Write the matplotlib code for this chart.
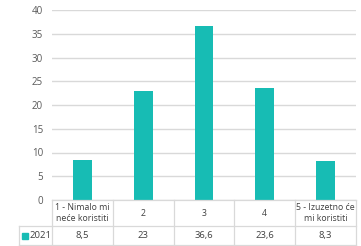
import matplotlib.pyplot as plt
from matplotlib.patches import Rectangle
from matplotlib.lines import Line2D

categories = ["1 - Nimalo mi\nneće koristiti", "2", "3", "4", "5 - Izuzetno će\nmi koristiti"]
values = [8.5, 23, 36.6, 23.6, 8.3]
value_labels = ["8,5", "23", "36,6", "23,6", "8,3"]
series_name = "2021"
yticks = [0, 5, 10, 15, 20, 25, 30, 35, 40]

teal = "#17bcb4"
grid = "#d9d9d9"
txt = "#595959"

W, H = 361, 246
fig = plt.figure(figsize=(W / 100, H / 100), dpi=100)
plt.rcParams['font.family'] = ['Open Sans', 'DejaVu Sans']

def fx(px):
    return px / W

def fy(py):
    return 1 - py / H

ax = fig.add_axes([fx(52), fy(200), fx(356) - fx(52), fy(10) - fy(200)])
x = range(len(values))
ax.bar(x, values, width=0.31, color=teal, zorder=3)
ax.set_xlim(-0.5, len(values) - 0.5)
ax.set_ylim(0, 40)
ax.set_yticks(yticks)
ax.set_yticklabels([str(t) for t in yticks], fontsize=7, color=txt)
ax.yaxis.grid(True, color=grid, linewidth=1, zorder=0)
ax.tick_params(axis='y', length=0, pad=6.5)
ax.set_xticks([])
for s in ax.spines.values():
    s.set_visible(False)

# table below the axes
col_w = (356 - 52) / len(values)
line_kw = dict(color=grid, linewidth=0.9, transform=fig.transFigure)
fig.add_artist(Line2D([fx(52), fx(356)], [fy(200), fy(200)], **line_kw))
fig.add_artist(Line2D([fx(19), fx(356)], [fy(226), fy(226)], **line_kw))
fig.add_artist(Line2D([fx(19), fx(356)], [fy(245), fy(245)], **line_kw))
fig.add_artist(Line2D([fx(19), fx(19)], [fy(226), fy(245)], **line_kw))
for i in range(len(values) + 1):
    xp = 52 + i * col_w
    fig.add_artist(Line2D([fx(xp), fx(xp)], [fy(200), fy(245)], **line_kw))

for i, (c, v) in enumerate(zip(categories, value_labels)):
    cx = 52 + (i + 0.5) * col_w
    fig.text(fx(cx), fy(213), c, ha='center', va='center', fontsize=6.3,
             color='#404040', linespacing=1.4)
    fig.text(fx(cx), fy(235.5), v, ha='center', va='center', fontsize=6.8,
             color='#404040')

fig.add_artist(Rectangle((fx(22), fy(239)), fx(6), fy(233) - fy(239),
                         color=teal, transform=fig.transFigure))
fig.text(fx(30), fy(235.5), series_name, ha='left', va='center', fontsize=6.8,
         color='#404040')

fig.savefig("out.png", dpi=100)
